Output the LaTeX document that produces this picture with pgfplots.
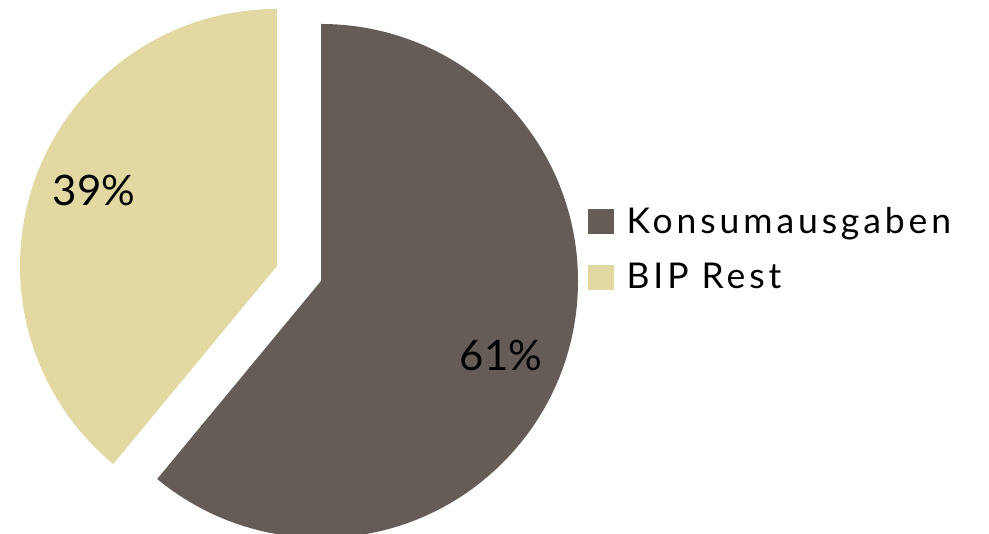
\documentclass[border=0pt]{standalone}
\usepackage{fontspec}
\setmainfont{Lato}
\newfontfamily\legfont[LetterSpace=11]{Lato}
\usepackage{pgfplots}
\pgfplotsset{compat=1.18}
\usepackage{pgfplotstable}
\definecolor{konsum}{HTML}{655C57}
\definecolor{rest}{HTML}{E2D9A2}

\pgfplotstableread{
label value
Konsumausgaben 61
BIPRest 39
}\piedata
\pgfplotstablegetelem{0}{value}\of\piedata \let\valA\pgfplotsretval
\pgfplotstablegetelem{1}{value}\of\piedata \let\valB\pgfplotsretval
\pgfmathsetmacro\endA{90-3.6*\valA}
\pgfmathsetmacro\endB{90+3.6*\valB}

\begin{document}
\begin{tikzpicture}
\useasboundingbox (0,0) rectangle (989pt,534pt);
\begin{axis}[
    at={(0,0)}, anchor=south west,
    x=1pt, y=1pt,
    xmin=0, xmax=989, ymin=0, ymax=534,
    scale only axis,
    hide axis,
    legend image code/.code={\fill[#1] (0pt,-12pt) rectangle (25pt,12pt);},
    legend style={at={(axis cs:588,285)}, anchor=west, draw=none, fill=none,
        inner sep=0pt, font=\legfont\fontsize{35.5}{42}\selectfont, row sep=24pt,
        nodes={inner xsep=13pt}},
    legend cell align=left,
]
\fill[konsum] (axis cs:321,253) -- ++(90:257pt) arc[start angle=90, end angle=\endA, radius=257pt] -- cycle;
\fill[rest] (axis cs:277,268) -- ++(90:257pt) arc[start angle=90, end angle=\endB, radius=257pt] -- cycle;
\node[font=\fontsize{42}{50}\selectfont] at (axis cs:94,344) {\valB\%};
\node[font=\fontsize{42}{50}\selectfont] at (axis cs:501,179) {\valA\%};
\addlegendimage{konsum}
\addlegendentry{Konsumausgaben}
\addlegendimage{rest}
\addlegendentry{BIP Rest}
\end{axis}
\end{tikzpicture}
\end{document}
